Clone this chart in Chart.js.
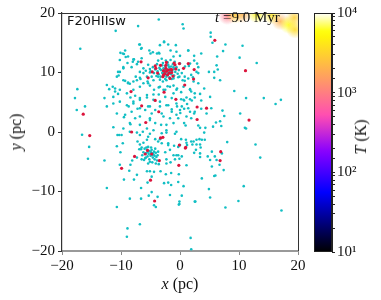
<!DOCTYPE html>
<html>
<head>
<meta charset="utf-8">
<script src="https://cdn.jsdelivr.net/npm/chart.js@4/dist/chart.umd.min.js"></script>
<style>
body{margin:0;background:#fff;}
#wrap{position:relative;width:381px;height:300px;overflow:hidden;}
canvas{position:absolute;top:0;}
.lbl{position:absolute;font-family:"Liberation Serif",serif;color:#111;white-space:nowrap;}
</style>
</head>
<body>
<div id="wrap">
  <canvas id="scatter" width="381" height="300" style="left:0"></canvas>
  <canvas id="cbar" width="81" height="300" style="left:300px"></canvas>
  <div class="lbl" style="left:67px;top:14px;font-family:'DejaVu Sans',sans-serif;font-size:13px;line-height:13px;">F20HIIsw</div>
  <div class="lbl" style="left:215px;top:10px;font-size:15px;line-height:15px;"><i>t</i> =9.0 Myr</div>
  <div class="lbl" style="left:180px;top:284px;font-size:16px;transform:translate(-50%,-50%);"><i>x</i> (pc)</div>
  <div class="lbl" style="left:16px;top:132px;font-size:16px;transform:translate(-50%,-50%) rotate(-90deg);"><i>y</i> (pc)</div>
  <div class="lbl" style="left:361px;top:137px;font-size:16px;transform:translate(-50%,-50%) rotate(-90deg);"><i>T</i> (K)</div>
</div>
<script>
// star particles (pc)
var cyanPts = [
  [4.1,-0.1],[8.0,-1.7],[12.8,-2.1],[13.6,-4.3],[10.8,-9.1],[9.9,-11.6],[7.7,-12.7],[17.2,-13.2],[1.8,-17.8],[1.9,-19.7],
  [4.9,-9.6],[5.1,-11.0],[2.6,-11.7],[-0.1,-11.7],[-0.1,-12.1],[0.3,-10.7],[0.6,-9.1],[3.7,-7.8],[5.8,-7.4],[6.0,-7.3],
  [7.4,-6.4],[5.4,-5.8],[6.7,-5.5],[6.2,-4.7],[5.1,-4.7],[4.7,-4.1],[5.9,-4.1],[5.4,-3.3],[7.1,-3.6],[3.4,-4.2],
  [3.4,-3.6],[2.7,-3.0],[2.4,-3.5],[3.5,-2.6],[3.4,-2.1],[2.8,-2.1],[2.1,-2.1],[1.9,-1.6],[2.3,-1.6],[3.3,-1.2],
  [3.7,-1.3],[4.2,-1.3],[1.0,-1.3],[0.2,-1.2],[1.2,-2.2],[-0.3,-3.9],[-0.1,-4.5],[0.3,-4.1],[1.1,-5.6],
  [0.45,18.1],[0.6,17.4],[5.2,16.7],[5.2,16.0],[5.5,15.0],[7.7,14.7],[10.6,14.5],[7.3,13.6],[10.1,12.5],[13.0,11.6],
  [1.4,13.7],[3.6,13.2],[6.3,12.7],[2.9,11.5],[2.4,12.0],[6.2,11.2],[6.4,10.5],[5.8,10.1],[4.9,10.1],[3.1,10.9],
  [3.1,9.9],[1.5,11.1],[5.8,9.1],[6.8,8.7],[1.9,9.6],[2.2,9.2],[0.8,9.3],[0.8,8.6],[0.45,8.7],[-0.1,9.3],
  [3.1,8.2],[4.1,7.3],[9.2,6.9],[1.7,7.2],[1.9,6.8],[0.2,6.7],[3.4,6.4],[5.1,5.9],[1.1,5.8],[2.5,5.8],
  [11.2,5.7],[14.2,5.7],[17.1,5.4],[16.2,4.7],[0.2,5.5],[0.7,5.3],[1.7,5.5],[2.0,5.3],[3.6,5.3],[1.2,4.7],
  [0.3,4.3],[0.7,3.9],[3.6,3.9],[5.3,4.0],[7.2,3.6],[10.2,3.1],[0.05,3.2],[1.7,3.4],[2.4,3.1],[4.5,3.1],
  [7.5,2.7],[1.9,2.3],[6.8,1.8],[6.1,1.6],[0.7,1.5],[0.95,1.1],[3.1,1.1],[3.4,0.7],[4.3,0.7],[5.6,0.9],
  [7.0,1.0],[11.0,0.7],[11.2,0.6],
  [-3.6,18.9],[-7.1,17.8],[-10.9,17.0],[-16.9,14.0],[-6.8,14.7],[-2.7,15.1],[-2.0,14.7],[-3.4,14.6],[-6.6,14.0],[-5.0,13.2],
  [-3.9,13.2],[-3.6,13.3],[-10.1,13.3],[-9.7,13.2],[-9.3,13.7],[-0.7,14.6],[-1.1,12.7],[-8.8,12.7],[-8.0,11.8],[-7.8,12.2],
  [-6.5,12.4],[-7.1,11.8],[-9.6,10.9],[-10.2,10.1],[-10.4,9.5],[-9.3,8.6],[-8.8,8.3],[-8.5,8.1],[-7.5,9.3],[-7.3,8.7],
  [-6.8,9.1],[-6.2,9.9],[-5.4,11.3],[-5.8,10.3],[-5.1,10.6],[-11.0,7.3],[-11.0,6.8],[-10.5,6.4],[-12.0,7.2],[-11.3,5.9],
  [-12.8,5.7],[-17.4,7.2],[-17.8,5.7],[-16.1,4.3],[-17.5,3.7],
  [-6.2,8.2],[-5.5,8.5],[-5.1,7.8],[-4.4,7.1],[-3.6,7.5],[-4.5,6.3],[-3.6,6.3],[-2.8,7.1],[-2.1,7.7],[-1.1,7.8],
  [-0.5,7.3],[-1.1,6.5],[-9.0,6.5],[-8.4,5.8],[-7.6,6.1],[-6.8,5.4],[-7.9,4.8],[-8.7,4.3],[-7.2,3.9],[-5.6,5.8],
  [-5.1,4.3],[-5.9,3.7],[-4.8,3.1],[-3.4,4.3],[-2.3,4.5],[-1.4,3.8],[-0.5,4.3],[-2.8,2.6],[-1.7,2.3],[-0.6,2.9],
  [-5.1,2.0],[-4.2,1.5],[-3.2,1.2],[-2.3,1.2],[-1.1,1.5],[-7.6,2.3],[-8.5,1.5],[-6.8,1.2],[-5.6,0.6],[-9.6,0.6],
  [-4.5,0.3],[-2.3,0.3],
  [-16.6,-0.45],[-15.4,-2.5],[-10.3,-0.5],[-9.7,-1.9],[-10.7,-2.4],[-11.3,0.8],[-8.4,1.3],[-9.5,2.5],[-5.4,-0.8],[-3.4,-1.2],
  [-2.0,-1.9],[0.0,-2.2],[1.1,-1.8],[2.8,-1.3],
  [-15.6,-4.5],[-12.8,-4.8],[-12.4,-9.4],[-10.7,-12.6],[-8.9,-16.2],[-9.0,-17.6],[-6.8,-15.5],[-8.5,-11.2],[-6.6,-11.2],[-5.3,-10.7],
  [-3.8,-10.9],[-4.4,-12.3],[-4.1,-12.6],[-4.8,-10.1],[-1.7,-10.6],[-6.6,-9.4],[-9.5,-8.0],[-7.8,-8.0],[-7.3,-7.2],[-5.5,-8.5],
  [-4.8,-7.5],[-5.1,-6.6],[-5.6,-6.6],[-4.4,-6.7],[-3.3,-6.6],[-2.4,-7.1],[-1.5,-6.9],[-2.7,-8.6],[-2.0,-8.5],[-1.5,-8.9],
  [-0.2,-7.1],[-0.3,-8.4],[-10.2,-5.5],[-8.6,-6.5],[-10.1,-3.4],[-9.9,-0.5],[-10.6,-0.5],[-8.4,-5.5],[-8.1,-4.8],[-7.3,-4.3],
  [-7.2,-1.6],[-6.8,-2.1],[-6.5,-2.6],[-6.2,-1.8],[-6.9,-2.9],
  [-5.8,-4.3],[-6.1,-4.7],[-5.4,-5.3],[-4.1,-5.3],[-3.6,-5.4],[-2.3,-5.3],[-1.6,-5.1],[-0.85,-4.6],[-0.6,-3.9],[-1.1,-3.9],
  [-2.3,-4.6],[-2.5,-3.4],[-1.7,-3.0],[-1.0,-2.3],[-0.3,-2.5],[-2.0,-2.2],[-3.1,-1.9],[-3.7,-1.6],[-4.2,-1.2],[-5.6,-1.3],
  [-5.1,-0.3],[-3.1,-0.2],[-2.3,-0.1],[-0.85,-0.3],[-0.6,0.05],[-6.8,-0.5],[-7.3,-0.1],[-8.5,0.05],[-6.3,0.05],
  [2.5,-11.7],[-0.2,-12.2],
  [-2.7,15.2],[-6.9,14.7],[-6.5,14.1],[-5.2,13.7],[-4.6,13.4],[-3.5,13.2],[-1.6,13.7],[-0.6,13.5],[0.0,12.8],[1.4,13.7],
  [2.4,12.8],[-9.5,13.1],[-9.2,12.6],[-10.2,12.1],[-8.9,11.6],[-7.9,12.2],[-7.3,11.4],[-8.2,10.9],[-9.6,10.7],[-10.5,10.1],
  [-6.8,10.1],[-6.2,10.7],[-5.1,10.0],[-5.6,9.3],[-6.7,8.9],[-7.9,8.5],[-8.8,8.2],[-9.6,8.7],[-10.7,9.3],[-11.4,7.6],
  [-12.4,7.9],[-10.2,7.1],[-7.9,7.1],[-6.8,7.6],[-5.4,8.2],[-4.5,8.7],[-3.7,9.3],[-2.3,8.7],[-1.1,9.3],[0.3,9.9],
  [1.4,9.0],[2.3,8.5],[2.8,10.1],[0.85,11.0],[0.0,11.5],[1.7,11.5],
  [-3.4,7.6],[-2.5,7.1],[-1.7,7.6],[-0.6,7.1],[0.6,7.6],[1.7,7.1],[2.5,6.5],[-2.5,5.9],[-1.4,5.7],[-0.6,4.8],
  [0.6,5.4],[-2.0,4.5],[-3.4,5.1],[-4.5,5.4],[-5.6,6.2],[-6.8,5.7],[-7.9,5.1],[-9.0,4.5],[-10.2,5.1],[-11.3,4.8],
  [-12.4,4.3],[-10.7,3.1],[-9.3,2.9],[-8.2,3.4],[-6.8,4.0],[-5.4,4.3],[-4.2,3.7],[-3.1,3.1],[-1.4,3.4],[0.0,3.7],
  [1.4,4.0],[2.5,3.4],[1.1,2.6],[-0.3,2.3],[-5.1,2.3],[-6.8,2.6]
];
// dense clump near (-2.3, 10.2)
var cyanClumpN = [
  [-3.5,10.8],[-3.0,11.2],[-2.5,11.0],[-2.0,11.3],[-1.5,11.0],[-1.0,10.6],[-3.8,10.2],[-3.2,10.4],[-2.8,10.7],[-2.2,10.5],
  [-1.8,10.8],[-1.3,10.3],[-0.8,10.1],[-3.6,9.7],[-3.0,9.9],[-2.6,10.1],[-2.0,9.9],[-1.5,9.7],[-1.0,9.5],[-3.3,9.3],
  [-2.7,9.5],[-2.3,9.3],[-1.8,9.2],[-4.2,10.5],[-4.0,9.4],[-2.9,11.6],[-2.1,11.7],[-1.2,11.4],[-0.6,10.9],[-0.4,9.8],
  [-1.4,8.9],[-2.5,8.9],[-3.4,8.8],[-4.4,9.9],[-4.6,10.9],[-3.9,11.4],[-2.4,12.0],[-1.6,12.1],[-0.9,11.8],[-0.2,10.4],
  [-5.0,10.2],[-3.1,12.3],[-1.1,9.0],[-2.9,8.5],[-4.8,9.3],[-0.3,9.2],[-3.7,12.0],[-2.6,10.4],[-2.4,9.7],[-1.7,10.2],
  [-2.9,10.0],[-3.4,10.6],[-1.9,11.0],[-1.1,10.9]
];
// dense clump near (-5, -3.5)
var cyanClumpS = [
  [-5.6,-3.0],[-5.2,-3.2],[-4.8,-3.0],[-4.4,-3.3],[-5.8,-3.6],[-5.3,-3.7],[-4.9,-3.5],[-4.5,-3.8],[-4.1,-3.5],[-5.5,-4.1],
  [-5.0,-4.0],[-4.6,-4.3],[-5.9,-4.4],[-5.2,-4.6],[-4.3,-4.6],[-6.2,-3.4],[-6.0,-2.8],[-4.9,-2.6],[-4.2,-2.8],[-3.8,-3.9],
  [-4.0,-4.2],[-5.4,-2.5],[-6.4,-3.9],[-5.1,-5.0],[-4.7,-5.1],[-3.7,-3.3],[-6.6,-2.9],[-4.8,-3.9],[-5.0,-3.3],[-4.6,-3.6],
  [-5.5,-3.4],[-4.3,-4.0],[-5.7,-2.6],[-3.9,-4.8],[-6.5,-4.6]
];
var redPts = [
  [6.8,-4.8],[6.9,-3.3],[0.9,-2.7],[-0.1,-2.2],[-0.2,-5.6],[5.9,15.4],[2.4,10.5],[1.4,11.5],[0.6,10.7],[-0.1,11.5],
  [11.1,10.3],[2.3,8.9],[0.8,7.9],[2.9,4.2],[4.5,4.0],[11.7,2.0],[2.9,2.1],
  [-6.6,11.8],[-4.2,11.1],[-2.3,11.7],[-0.85,11.3],[-1.4,10.5],[-4.7,10.1],[-2.8,9.6],[-5.4,9.1],[-16.4,3.0],[-8.3,6.8],
  [-6.5,4.4],[-4.2,5.3],[-5.8,1.6],[-3.6,3.4],[-2.7,6.7],[-0.7,5.5],[-8.2,0.0],[-15.3,-0.6],[-2.9,-0.9],[-9.9,-6.1],
  [-7.7,-4.1],[-5.9,-3.7],[-4.8,-3.7],[-5.5,-3.1],[-3.5,-4.8],[-5.0,-8.1],[-4.3,-11.6],[-3.3,-1.0],[0.97,-2.6]
];
var redClumpN = [
  [-2.3,10.2],[-2.0,10.4],[-2.6,9.8],[-1.8,9.9],[-2.4,10.7],[-1.6,10.5],[-2.8,10.3],[-2.1,9.6],[-2.4,11.2],[-1.4,10.0],
  [-3.3,11.2],[-1.0,11.6],[-2.9,9.3],[-1.7,9.0],[-0.7,10.6],[-3.8,9.9],[-1.2,9.4],[-4.1,10.7]
];
// hot gas patch at the top right corner (pc, K)
var hotX = [8.0, 9.3, 10.6, 13.0, 15.6, 17.0, 18.4, 19.4, 19.5];
var hotY = [19.5, 19.7, 19.8, 19.8, 19.6, 18.6, 18.0, 19.2, 17.2];
var hotT = [900, 3000, 2000, 5000, 4000, 2000, 6000, 3000, 3500];

var axisTicks = [-20, -10, 0, 10, 20];
var tMin = 10, tMax = 10000;

function gnuplot2(t) {
  var r = Math.min(1, Math.max(0, t / 0.32 - 0.78125));
  var g = Math.min(1, Math.max(0, 2 * t - 0.84));
  var b;
  if (t < 0.25) b = 4 * t;
  else if (t < 0.92) b = -2 * t + 1.84;
  else b = t / 0.08 - 11.5;
  b = Math.min(1, Math.max(0, b));
  return [Math.round(r * 255), Math.round(g * 255), Math.round(b * 255)];
}
function tempFrac(T) {
  return (Math.log10(T) - Math.log10(tMin)) / (Math.log10(tMax) - Math.log10(tMin));
}
function toXY(p) { return {x: p[0], y: p[1]}; }
function fmt(v) { return v < 0 ? '\u2212' + Math.abs(v) : String(v); }

var serif = "'Liberation Serif', serif";

var hotGas = {
  id: 'hotGas',
  beforeDatasetsDraw: function(chart) {
    var ctx = chart.ctx, a = chart.chartArea;
    var xs = chart.scales.x, ys = chart.scales.y;
    ctx.save();
    ctx.beginPath();
    ctx.rect(a.left, a.top, a.right - a.left, a.bottom - a.top);
    ctx.clip();
    for (var i = 0; i < hotX.length; i++) {
      var px = xs.getPixelForValue(hotX[i]), py = ys.getPixelForValue(hotY[i]);
      var c = gnuplot2(tempFrac(hotT[i]));
      var grd = ctx.createRadialGradient(px, py, 0, px, py, 9);
      grd.addColorStop(0, 'rgba(' + c.join(',') + ',0.85)');
      grd.addColorStop(1, 'rgba(' + c.join(',') + ',0)');
      ctx.fillStyle = grd;
      ctx.fillRect(px - 9, py - 9, 18, 18);
    }
    ctx.restore();
  }
};

var frame = {
  id: 'frame',
  afterDraw: function(chart) {
    var ctx = chart.ctx, a = chart.chartArea;
    ctx.save();
    ctx.strokeStyle = '#333';
    ctx.lineWidth = 1;
    ctx.beginPath();
    ctx.moveTo(a.left, a.top + 0.5);
    ctx.lineTo(a.right + 0.5, a.top + 0.5);
    ctx.lineTo(a.right + 0.5, a.bottom);
    ctx.stroke();
    ctx.restore();
  }
};

new Chart('scatter', {
  type: 'scatter',
  data: {
    datasets: [{
      label: 'T > 10^4 K stars',
      data: redPts.concat(redClumpN).map(toXY),
      backgroundColor: '#dc143c',
      pointRadius: 1.6,
      borderWidth: 0
    }, {
      label: 'stars',
      data: cyanPts.concat(cyanClumpN, cyanClumpS).map(toXY),
      backgroundColor: '#12bfc4',
      pointRadius: 1.3,
      borderWidth: 0
    }]
  },
  options: {
    responsive: false,
    animation: false,
    layout: { padding: { left: 0, top: 13, right: 83, bottom: 0 } },
    plugins: { legend: { display: false }, tooltip: { enabled: false } },
    scales: {
      x: {
        type: 'linear', min: -20, max: 20,
        afterBuildTicks: function(s) { s.ticks = axisTicks.map(function(v) { return {value: v}; }); },
        afterFit: function(s) { s.height = 49; },
        ticks: { callback: fmt, font: { family: serif, size: 15 }, color: '#111', padding: 2, maxRotation: 0 },
        grid: { drawOnChartArea: false, tickLength: 4, color: '#888' },
        border: { color: '#999', width: 2 }
      },
      y: {
        type: 'linear', min: -20, max: 20,
        afterBuildTicks: function(s) { s.ticks = axisTicks.map(function(v) { return {value: v}; }); },
        afterFit: function(s) { s.width = 62; },
        ticks: { callback: fmt, font: { family: serif, size: 15 }, color: '#111', padding: 3 },
        grid: { drawOnChartArea: false, tickLength: 4, color: '#333' },
        border: { color: '#333', width: 1.2 }
      }
    }
  },
  plugins: [hotGas, frame]
});

var sup = ['\u2070', '\u00b9', '\u00b2', '\u00b3', '\u2074'];

var cbarFill = {
  id: 'cbarFill',
  beforeDraw: function(chart) {
    var ctx = chart.ctx, a = chart.chartArea;
    var grd = ctx.createLinearGradient(0, a.bottom, 0, a.top);
    for (var i = 0; i <= 40; i++) {
      var c = gnuplot2(i / 40);
      grd.addColorStop(i / 40, 'rgb(' + c.join(',') + ')');
    }
    ctx.save();
    ctx.fillStyle = grd;
    ctx.fillRect(a.left, a.top, a.right - a.left, a.bottom - a.top);
    ctx.strokeStyle = '#222';
    ctx.lineWidth = 1;
    ctx.strokeRect(a.left + 0.5, a.top + 0.5, a.right - a.left - 1, a.bottom - a.top - 1);
    ctx.restore();
  }
};

new Chart('cbar', {
  type: 'scatter',
  data: { datasets: [] },
  options: {
    responsive: false,
    animation: false,
    layout: { padding: { left: 14, top: 13, right: 0, bottom: 48 } },
    plugins: { legend: { display: false }, tooltip: { enabled: false } },
    scales: {
      x: { display: false, min: 0, max: 1 },
      y: {
        type: 'logarithmic', position: 'right', min: tMin, max: tMax,
        afterFit: function(s) { s.width = 49; },
        ticks: {
          autoSkip: false,
          padding: 2,
          color: '#111',
          font: { family: serif, size: 15 },
          callback: function(v) {
            var e = Math.log10(v), r = Math.round(e);
            return Math.abs(e - r) < 1e-9 ? '10' + sup[r] : '';
          }
        },
        grid: { drawOnChartArea: false, tickLength: 3, color: '#222' },
        border: { color: '#222', width: 1 }
      }
    }
  },
  plugins: [cbarFill]
});
</script>
</body>
</html>
